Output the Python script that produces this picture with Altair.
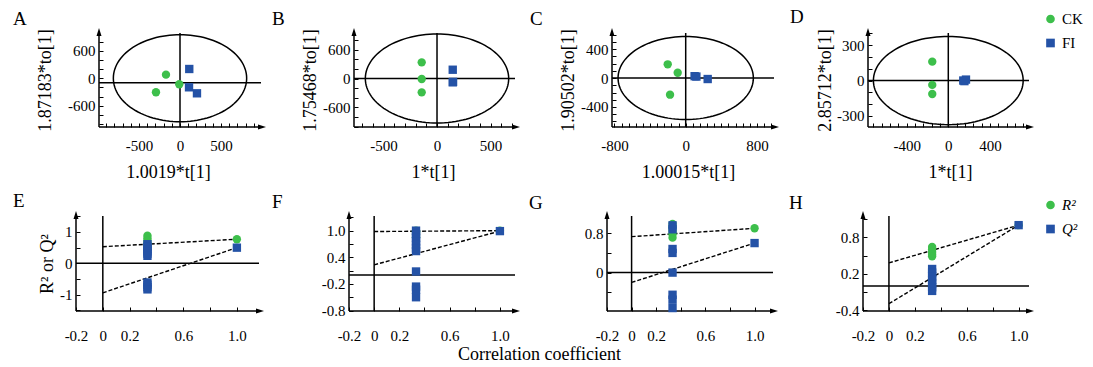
import altair as alt
import pandas as pd

FONT = "Liberation Serif"
GREEN = "#3dbf4b"
BLUE = "#2452a6"

# ---------------- top row: score plots ----------------
top_letters = ["A", "B", "C", "D"]
top_xtitles = ["1.0019*t[1]", "1*t[1]", "1.00015*t[1]", "1*t[1]"]
top_ytitles = ["1.87183*to[1]", "1.75468*to[1]", "1.90502*to[1]", "2.85712*to[1]"]
top_xdomain = [[-988, 988], [-776, 729], [-828, 992], [-772, 776]]
top_ydomain = [[-1066, 987], [-1010, 948], [-676, 621], [-394, 403]]
top_xlabels = [[-500, 0, 500], [-500, 0, 500], [-800, 0, 800], [-400, 0, 400]]
top_ylabels = [[-600, 0, 600], [-600, 0, 600], [-400, 0, 400], [-300, 0, 300]]
top_xstep = [100, 100, 80, 80]
top_ystep = [200, 200, 100, 100]
ell_a = [813, 670, 760, 720]      # ellipse semi-axis along t[1]
ell_b = [950, 927, 573, 374]      # ellipse semi-axis along to[1]
hline_y = [-100, 0, 0, 0]
ck_t = [[-171, -293, -9], [-143, -143, -143], [-202, -90, -176], [-154, -154, -154]]
ck_to = [[77, -308, -133], [337, -10, -288], [189, 73, -230], [160, -37, -114]]
fi_t = [[113, 110, 207], [147, 147, 150], [100, 120, 247], [144, 170, 155]]
fi_to = [[201, -199, -330], [183, -79, -70], [25, 20, -14], [0, 8, -5]]
groups = ["CK", "FI"]

# ---------------- bottom row: permutation tests ----------------
bot_letters = ["E", "F", "G", "H"]
bot_xdomain = [[-0.2, 1.165], [-0.2, 1.12], [-0.2, 1.15], [-0.2, 1.08]]
bot_ydomain = [[-1.52, 1.51], [-0.81, 1.33], [-0.78, 1.15], [-0.41, 1.15]]
bot_xticks = [-0.2, 0, 0.2, 0.4, 0.6, 0.8, 1.0]
bot_xlabels = [-0.2, 0, 0.2, 0.6, 1.0]
bot_yticks = [[-1.5, -1.0, -0.5, 0, 0.5, 1.0, 1.5],
              [-0.8, -0.5, -0.2, 0.1, 0.4, 0.7, 1.0, 1.3],
              [-0.8, -0.4, 0, 0.4, 0.8],
              [-0.4, -0.1, 0.2, 0.5, 0.8, 1.1]]
bot_ylabels = [[-1.0, 0, 1.0], [-0.8, -0.2, 0.4, 1.0], [-0.8, 0, 0.8], [-0.4, 0.2, 0.8]]
perm_x = 0.333
r2_obs = [0.77, 1.0, 0.90, 1.0]
q2_obs = [0.50, 0.99, 0.60, 1.0]
r2_int = [0.53, 0.98, 0.73, 0.38]
q2_int = [-0.94, 0.23, -0.20, -0.29]
r2_perm = [[0.88, 0.80, 0.72, 0.64, 0.55, 0.45],
           [1.0, 0.98, 0.95, 0.90, 0.85],
           [0.99, 0.92, 0.85, 0.78, 0.71],
           [0.64, 0.60, 0.56, 0.52, 0.49]]
q2_perm = [[0.61, 0.53, 0.45, 0.38, 0.31, 0.24, -0.61, -0.68, -0.76, -0.83],
           [1.0, 0.92, 0.84, 0.76, 0.68, 0.60, 0.54, 0.08, -0.26, -0.33, -0.50],
           [0.96, 0.88, 0.48, 0.40, 0.0, -0.45, -0.55, -0.72],
           [0.28, 0.22, 0.16, 0.10, 0.04, -0.02, -0.08]]
stats = ["R\u00b2", "Q\u00b2"]

# ---------------- layout ----------------
TOP_W = [162, 161, 162, 161]
TOP_H = 94
TOP_GAPS = [23, 93, 97, 94]
TOP_DX = [-86, -82, -82, -78]
TOP_YTX = [-58, -48, -48, -47]
TOP_XTX = [69, 79, 76, 82]
BOT_W = [183, 166, 166, 166]
BOT_H = 95
BOT_GAPS = [90, 92, 90]
BOT_DX = [-63, -77, -78, -74]
ROW_GAP = 11
LEG_X = 1047

UP = "M0,-1L0.5,0.6L-0.5,0.6Z"
RIGHT = "M1,0L-0.6,0.5L-0.6,-0.5Z"
MINUS = "\u2212"


def multiples(lo, hi, step):
    k0 = -(-lo // step)
    k1 = hi // step
    return [int(k * step) for k in range(int(k0), int(k1) + 1)]


def int_label(labels):
    return "indexof(" + str(labels) + ", datum.value) >= 0 ? '' + datum.value : ''"


def dec_label(labels):
    return ("indexof(" + str(labels) + ", datum.value) >= 0 ? (datum.value == 0 ? '0' : "
            "replace(format(datum.value, '.1f'), '" + MINUS + "', '-')) : ''")


def spacer(w, legend_dom=None, legend_x=0, legend_y=0, italic=False):
    if legend_dom is None:
        return alt.Chart(pd.DataFrame({"s": [0]})).mark_point(opacity=0, size=0).encode(
            x=alt.X("s:Q", axis=None), y=alt.Y("s:Q", axis=None)
        ).properties(width=w, height=1)
    leg = alt.Legend(orient="none", legendX=legend_x, legendY=legend_y, title=None,
                     labelFont=FONT, labelFontSize=15, labelColor="black",
                     labelFontStyle="italic" if italic else "normal",
                     symbolSize=75, symbolOpacity=1, rowPadding=8, padding=0,
                     labelOffset=4, symbolStrokeWidth=0)
    df = pd.DataFrame({"g": legend_dom, "s": [0] * len(legend_dom)})
    return alt.Chart(df).mark_point(opacity=0, size=0, filled=True).encode(
        x=alt.X("s:Q", axis=None), y=alt.Y("s:Q", axis=None),
        color=alt.Color("g:N", scale=alt.Scale(domain=legend_dom, range=[GREEN, BLUE]), legend=leg),
        shape=alt.Shape("g:N", scale=alt.Scale(domain=legend_dom, range=["circle", "square"]), legend=leg),
    ).properties(width=w, height=1)


def frame_layers(xd, yd, hy, vx, X, Y):
    lines = pd.DataFrame({
        "x1": [xd[0], xd[0], xd[0], vx],
        "x2": [xd[1], xd[0], xd[1], vx],
        "y1": [yd[0], yd[0], hy, yd[0]],
        "y2": [yd[0], yd[1], hy, yd[1]],
    })
    rules = alt.Chart(lines).mark_rule(color="black", strokeWidth=1.5).encode(
        x=X("x1"), x2="x2", y=Y("y1"), y2="y2")
    up = alt.Chart(pd.DataFrame({"x": [xd[0]], "y": [yd[1]]})).mark_point(
        shape=UP, size=100, filled=True, color="black", opacity=1, strokeWidth=0
    ).encode(x=X("x"), y=Y("y"))
    right = alt.Chart(pd.DataFrame({"x": [xd[1]], "y": [yd[0]]})).mark_point(
        shape=RIGHT, size=100, filled=True, color="black", opacity=1, strokeWidth=0
    ).encode(x=X("x"), y=Y("y"))
    return [rules, up, right]


def letter(text, dx, dy):
    return alt.TitleParams(text=text, anchor="start", frame="group", dx=dx, dy=dy,
                           offset=0, baseline="alphabetic", fontSize=19, font=FONT,
                           fontWeight="normal", color="black")


def top_panel(i):
    xd, yd = top_xdomain[i], top_ydomain[i]
    xaxis = alt.Axis(values=multiples(xd[0], xd[1], top_xstep[i]),
                     labelExpr=int_label(top_xlabels[i]), offset=-4, domain=False,
                     tickSize=4, labelPadding=11, title=top_xtitles[i],
                     titleX=TOP_XTX[i], titleY=49, titleBaseline="middle",
                     titleAlign="center", titleAngle=0)
    yaxis = alt.Axis(values=multiples(yd[0], yd[1], top_ystep[i]),
                     labelExpr=int_label(top_ylabels[i]), offset=-4, domain=False,
                     tickSize=4, labelPadding=4, title=top_ytitles[i],
                     titleX=TOP_YTX[i], titleY=TOP_H / 2, titleBaseline="middle",
                     titleAngle=-90, titleAlign="center")
    xs = alt.Scale(domain=xd, nice=False, zero=False)
    ys = alt.Scale(domain=yd, nice=False, zero=False)

    def X(f):
        return alt.X(f + ":Q", scale=xs, axis=xaxis)

    def Y(f):
        return alt.Y(f + ":Q", scale=ys, axis=yaxis)

    ell = alt.Chart(alt.sequence(0, 361, 3, as_="deg")).transform_calculate(
        ex=f"{ell_a[i]}*cos(datum.deg*PI/180)",
        ey=f"{ell_b[i]}*sin(datum.deg*PI/180)",
    ).mark_line(color="black", strokeWidth=1.5).encode(x=X("ex"), y=Y("ey"), order="deg:Q")

    pts = pd.DataFrame({
        "t": ck_t[i] + fi_t[i],
        "to": ck_to[i] + fi_to[i],
        "g": ["CK"] * len(ck_t[i]) + ["FI"] * len(fi_t[i]),
    })
    point = alt.Chart(pts).mark_point(filled=True, size=70, opacity=1).encode(
        x=X("t"), y=Y("to"),
        color=alt.Color("g:N", scale=alt.Scale(domain=groups, range=[GREEN, BLUE]), legend=None),
        shape=alt.Shape("g:N", scale=alt.Scale(domain=groups, range=["circle", "square"]), legend=None),
    )
    layers = [ell] + frame_layers(xd, yd, hline_y[i], 0, X, Y) + [point]
    return alt.layer(*layers).properties(
        width=TOP_W[i], height=TOP_H, title=letter(top_letters[i], TOP_DX[i], 16))


def bot_panel(i):
    xd, yd = bot_xdomain[i], bot_ydomain[i]
    if i == 2:
        xkw = dict(title="Correlation coefficient", titleX=-68, titleY=47,
                   titleBaseline="middle", titleAlign="center", titleAngle=0)
    else:
        xkw = dict(title=None)
    xaxis = alt.Axis(values=bot_xticks, labelExpr=dec_label(bot_xlabels), offset=-4,
                     domain=False, tickSize=4, labelPadding=17, **xkw)
    ylab = int_label([-1, 0, 1]) if i == 0 else dec_label(bot_ylabels[i])
    if i == 0:
        ykw = dict(title="R\u00b2 or Q\u00b2", titleX=-33, titleY=BOT_H / 2,
                   titleBaseline="middle", titleAngle=-90, titleAlign="center")
    else:
        ykw = dict(title=None)
    yaxis = alt.Axis(values=bot_yticks[i], labelExpr=ylab, offset=-4, domain=False,
                     tickSize=4, labelPadding=4, **ykw)
    xs = alt.Scale(domain=xd, nice=False, zero=False)
    ys = alt.Scale(domain=yd, nice=False, zero=False)

    def X(f):
        return alt.X(f + ":Q", scale=xs, axis=xaxis)

    def Y(f):
        return alt.Y(f + ":Q", scale=ys, axis=yaxis)

    reg = pd.DataFrame({"x1": [0, 0], "x2": [1, 1],
                        "y1": [r2_int[i], q2_int[i]], "y2": [r2_obs[i], q2_obs[i]]})
    dashed = alt.Chart(reg).mark_rule(color="black", strokeWidth=1.4, strokeDash=[4, 2]).encode(
        x=X("x1"), x2="x2", y=Y("y1"), y2="y2")

    xs_r = [perm_x] * len(r2_perm[i]) + [1.0]
    ys_r = r2_perm[i] + [r2_obs[i]]
    xs_q = [perm_x] * len(q2_perm[i]) + [1.0]
    ys_q = q2_perm[i] + [q2_obs[i]]
    pts = pd.DataFrame({
        "x": xs_r + xs_q,
        "y": ys_r + ys_q,
        "s": [stats[0]] * len(xs_r) + [stats[1]] * len(xs_q),
    })
    point = alt.Chart(pts).mark_point(filled=True, size=70, opacity=1).encode(
        x=X("x"), y=Y("y"),
        color=alt.Color("s:N", scale=alt.Scale(domain=stats, range=[GREEN, BLUE]), legend=None),
        shape=alt.Shape("s:N", scale=alt.Scale(domain=stats, range=["circle", "square"]), legend=None),
    )
    layers = frame_layers(xd, yd, 0, 0, X, Y) + [dashed, point]
    return alt.layer(*layers).properties(
        width=BOT_W[i], height=BOT_H, title=letter(bot_letters[i], BOT_DX[i], 17))


top_items = [
    spacer(TOP_GAPS[0]), top_panel(0),
    spacer(TOP_GAPS[1]), top_panel(1),
    spacer(TOP_GAPS[2]), top_panel(2),
    spacer(TOP_GAPS[3], groups, LEG_X - 4 - 774, -21.5), top_panel(3),
]
bot_items = [
    bot_panel(0),
    spacer(BOT_GAPS[0]), bot_panel(1),
    spacer(BOT_GAPS[1]), bot_panel(2),
    spacer(BOT_GAPS[2], stats, LEG_X - 4 - 773, -18.5, italic=True), bot_panel(3),
]

top_row = alt.hconcat(*top_items, spacing=0, bounds="flush").resolve_scale(
    color="independent", shape="independent")
bot_row = alt.hconcat(*bot_items, spacing=0, bounds="flush").resolve_scale(
    color="independent", shape="independent")

chart = alt.vconcat(top_row, bot_row, spacing=ROW_GAP, bounds="full").resolve_scale(
    color="independent", shape="independent"
).properties(
    padding={"left": 5, "top": 0, "right": 0, "bottom": 0}
).configure_view(stroke=None).configure_axis(
    labelFont=FONT, labelFontSize=15, labelColor="black", titleFont=FONT,
    titleFontSize=18, titleFontWeight="normal", titleColor="black",
    tickColor="black", tickWidth=1, grid=False, labelFlush=False, labelOverlap=False,
)

chart.save("out.html", embed_options={"renderer": "svg", "actions": False})
